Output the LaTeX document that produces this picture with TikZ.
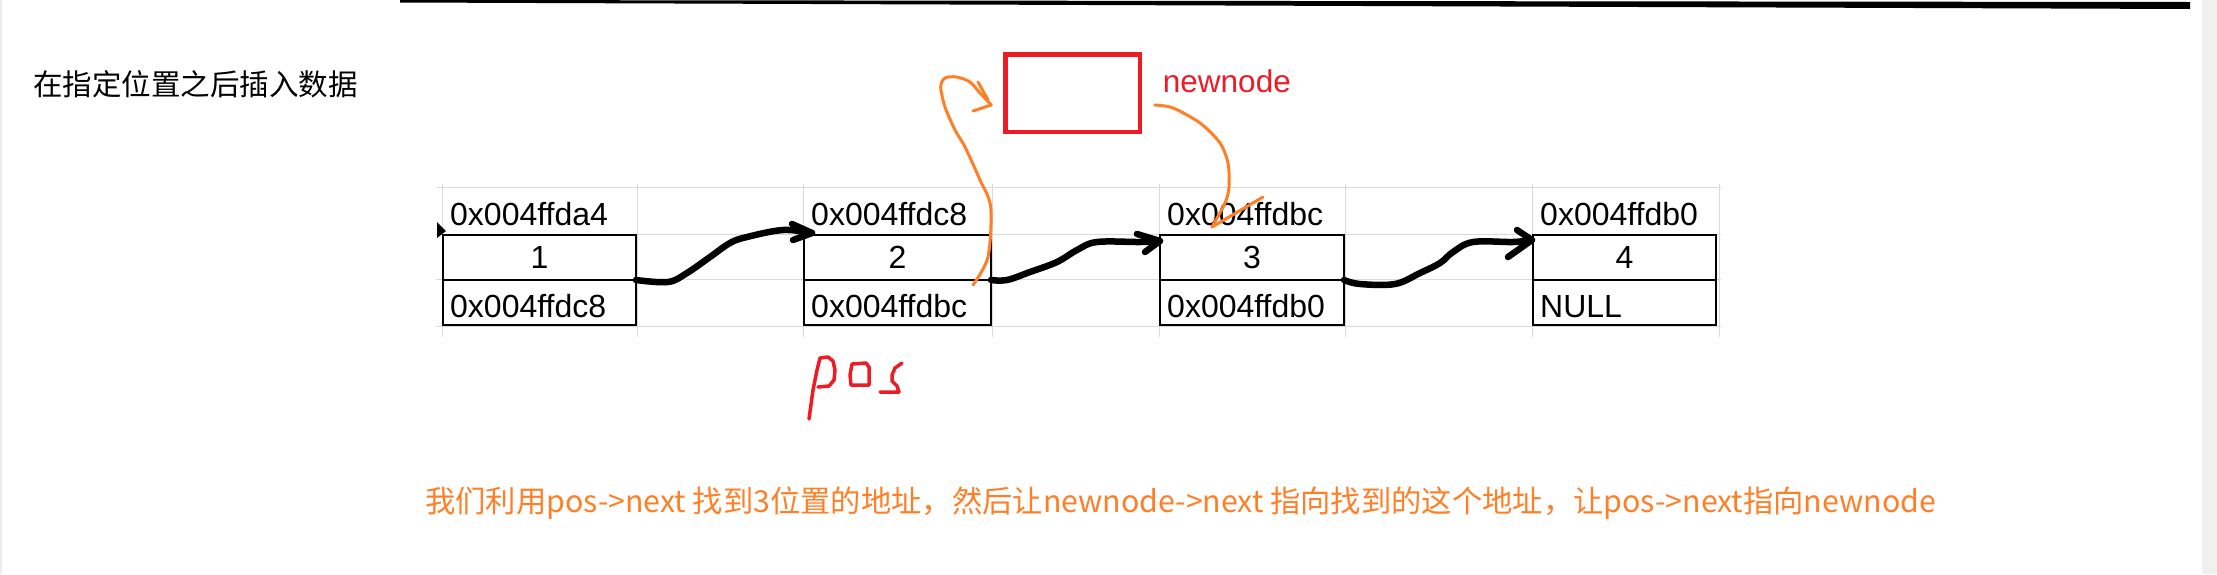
\documentclass[tikz,border=0pt]{standalone}
\usepackage{fontspec}
\setmainfont{Liberation Sans}
\newfontfamily\cjk{Noto Sans CJK SC}
\usepackage{xcolor}
\usepackage{tikz}
\usetikzlibrary{positioning}
\usetikzlibrary{calc}
\definecolor{penred}{RGB}{237,28,36}
\definecolor{penorange}{RGB}{255,127,39}
\definecolor{gridgray}{RGB}{217,217,217}

\begin{document}
\begin{tikzpicture}[x=1pt,y=-1pt]
			\tikzstyle{cell}=[draw,line width=2.5pt,outer sep=0pt,inner sep=0pt,minimum height=45pt,font=\fontsize{32}{36}\selectfont]
			\tikzstyle{addr}=[anchor=base west,inner sep=0pt,font=\fontsize{32}{36}\selectfont]
			\tikzstyle{hand}=[line width=6.5pt,line cap=round,line join=round]
			\tikzstyle{orangepen}=[penorange,line width=3pt,line cap=round,line join=round]
			\tikzstyle{redpen}=[penred,line width=3.5pt,line cap=round,line join=round]

			\useasboundingbox (0,0) rectangle (2217,574);
			\fill[white] (0,0) rectangle (2217,574);
			\fill[gray!12] (2202,0) rectangle (2217,574);
			\fill[gray!15] (0,0) rectangle (2,574);
			\fill (400,0) -- (2190,2) -- (2190,9) -- (400,2.5) -- cycle;

			\node (title) [anchor=base west,inner sep=0pt,font=\cjk\fontsize{29.5}{32}\selectfont] at (33,95) {在指定位置之后插入数据};

			\draw[gridgray,line width=1pt] (436,187) -- (1721,187) (436,234) -- (1721,234)
			(436,279) -- (1721,279) (436,326) -- (1721,326)
			(442,184) -- (442,337) (637,184) -- (637,337) (803,184) -- (803,337) (992,184) -- (992,337)
			(1159,184) -- (1159,337) (1345,184) -- (1345,337) (1532,184) -- (1532,337) (1719,184) -- (1719,337);

			\node (v1) [cell,minimum width=193pt] at (539.5,257.5) {1};
			\node (p1) [cell,minimum width=193pt,below=0pt of v1] {};
			\node (v2) [cell,minimum width=187pt,right=168pt of v1] {2};
			\node (p2) [cell,minimum width=187pt,below=0pt of v2] {};
			\node (v3) [cell,minimum width=184pt,right=169pt of v2] {3};
			\node (p3) [cell,minimum width=184pt,below=0pt of v3] {};
			\node (v4) [cell,minimum width=183pt,right=189pt of v3] {4};
			\node (p4) [cell,minimum width=183pt,below=0pt of v4] {};

			\node (a1) [addr] at ($(v1.north west)+(7,-10)$) {0x004ffda4};
			\node (a2) [addr] at ($(v2.north west)+(7,-10)$) {0x004ffdc8};
			\node (a3) [addr] at ($(v3.north west)+(7,-10)$) {0x004ffdbc};
			\node (a4) [addr] at ($(v4.north west)+(7,-10)$) {0x004ffdb0};
			\node (t1) [addr] at ($(p1.south west)+(7,-8)$) {0x004ffdc8};
			\node (t2) [addr] at ($(p2.south west)+(7,-8)$) {0x004ffdbc};
			\node (t3) [addr] at ($(p3.south west)+(7,-8)$) {0x004ffdb0};
			\node (t4) [addr] at ($(p4.south west)+(7,-8)$) {NULL};

			\node (nn) [draw=penred,line width=4.5pt,outer sep=0pt,minimum width=134.5pt,minimum height=77.5pt] at (1072.5,93) {};
			\node (nnlabel) [anchor=base west,inner sep=0pt,text=penred,font=\fontsize{31.5}{34}\selectfont] at ($(nn.east)+(23,-1)$) {newnode};

			\fill (437,222) -- (446,231) -- (437,238) -- cycle;

			\coordinate (tip1) at ($(v2.north west)+(8,-2)$);
			\coordinate (tip2) at ($(v3.north west)+(0,6)$);
			\coordinate (tip3) at ($(v4.north west)+(-1,5)$);
			\draw[hand] plot[smooth,tension=0.6] coordinates {(p1.north east) (668,282) (687,273) (710,257) (730,243) (747,237) (783,230) (tip1)};
			\draw[hand] (792,224) -- (tip1) -- (793,240);
			\draw[hand] plot[smooth,tension=0.6] coordinates {(p2.north east) (1007,280) (1030,272) (1057,262) (1077,250) (1097,242) (1140,242) (tip2)};
			\draw[hand] (1137,234) -- (tip2) -- (1145,252);
			\draw[hand] plot[smooth,tension=0.6] coordinates {(p3.north east) (1360,284) (1395,284) (1420,273) (1440,263) (1453,252) (1473,242) (1513,242) (tip3)};
			\draw[hand] (1517,230) -- (tip3) -- (1508,257);

			\coordinate (o1) at ($(p2.north east)+(-18,5)$);
			\coordinate (o1tip) at ($(nn.west)+(-14,12)$);
			\draw[orangepen] plot[smooth,tension=0.5] coordinates {(o1) (988,257) (990.7,207) (980,180) (965,147) (955,130) (945,107) (940.7,87) (945,78) (956.7,77) (970,82) (980,93) (o1tip)};
			\draw[orangepen] (o1tip) -- (973,111);
			\draw[orangepen] (978,82) -- (988,100);
			\coordinate (o2) at ($(nn.east)+(15,12)$);
			\coordinate (o2tip) at ($(v3.north west)+(52,-8)$);
			\draw[orangepen] plot[smooth,tension=0.5] coordinates {(o2) (1173,108) (1200,123) (1220,143) (1228,163) (1229,187) (1225,203) (o2tip)};
			\draw[orangepen] (o2tip) -- (1263,197);

			\draw[redpen] (809,419) -- (813,390) -- (817,370) -- (820,358) -- (828,357) -- (833,361) -- (835,370) -- (834,380) -- (829,386) -- (818,387);
			\draw[redpen] (852,364) -- (866,363) -- (869,367) -- (869,385) -- (851,385) -- (850,375) -- cycle;
			\draw[redpen] (902,363) -- (895,368) -- (892,375) -- (892,381) -- (897,386) -- (899,392) -- (880,392);

			\node (note) [anchor=base west,inner sep=0pt,text=penorange,font=\cjk\fontsize{30.3}{34}\selectfont] at (425,512) {我们利用pos->next 找到3位置的地址，然后让newnode->next 指向找到的这个地址，让pos->next指向newnode};
		\end{tikzpicture}
\end{document}
